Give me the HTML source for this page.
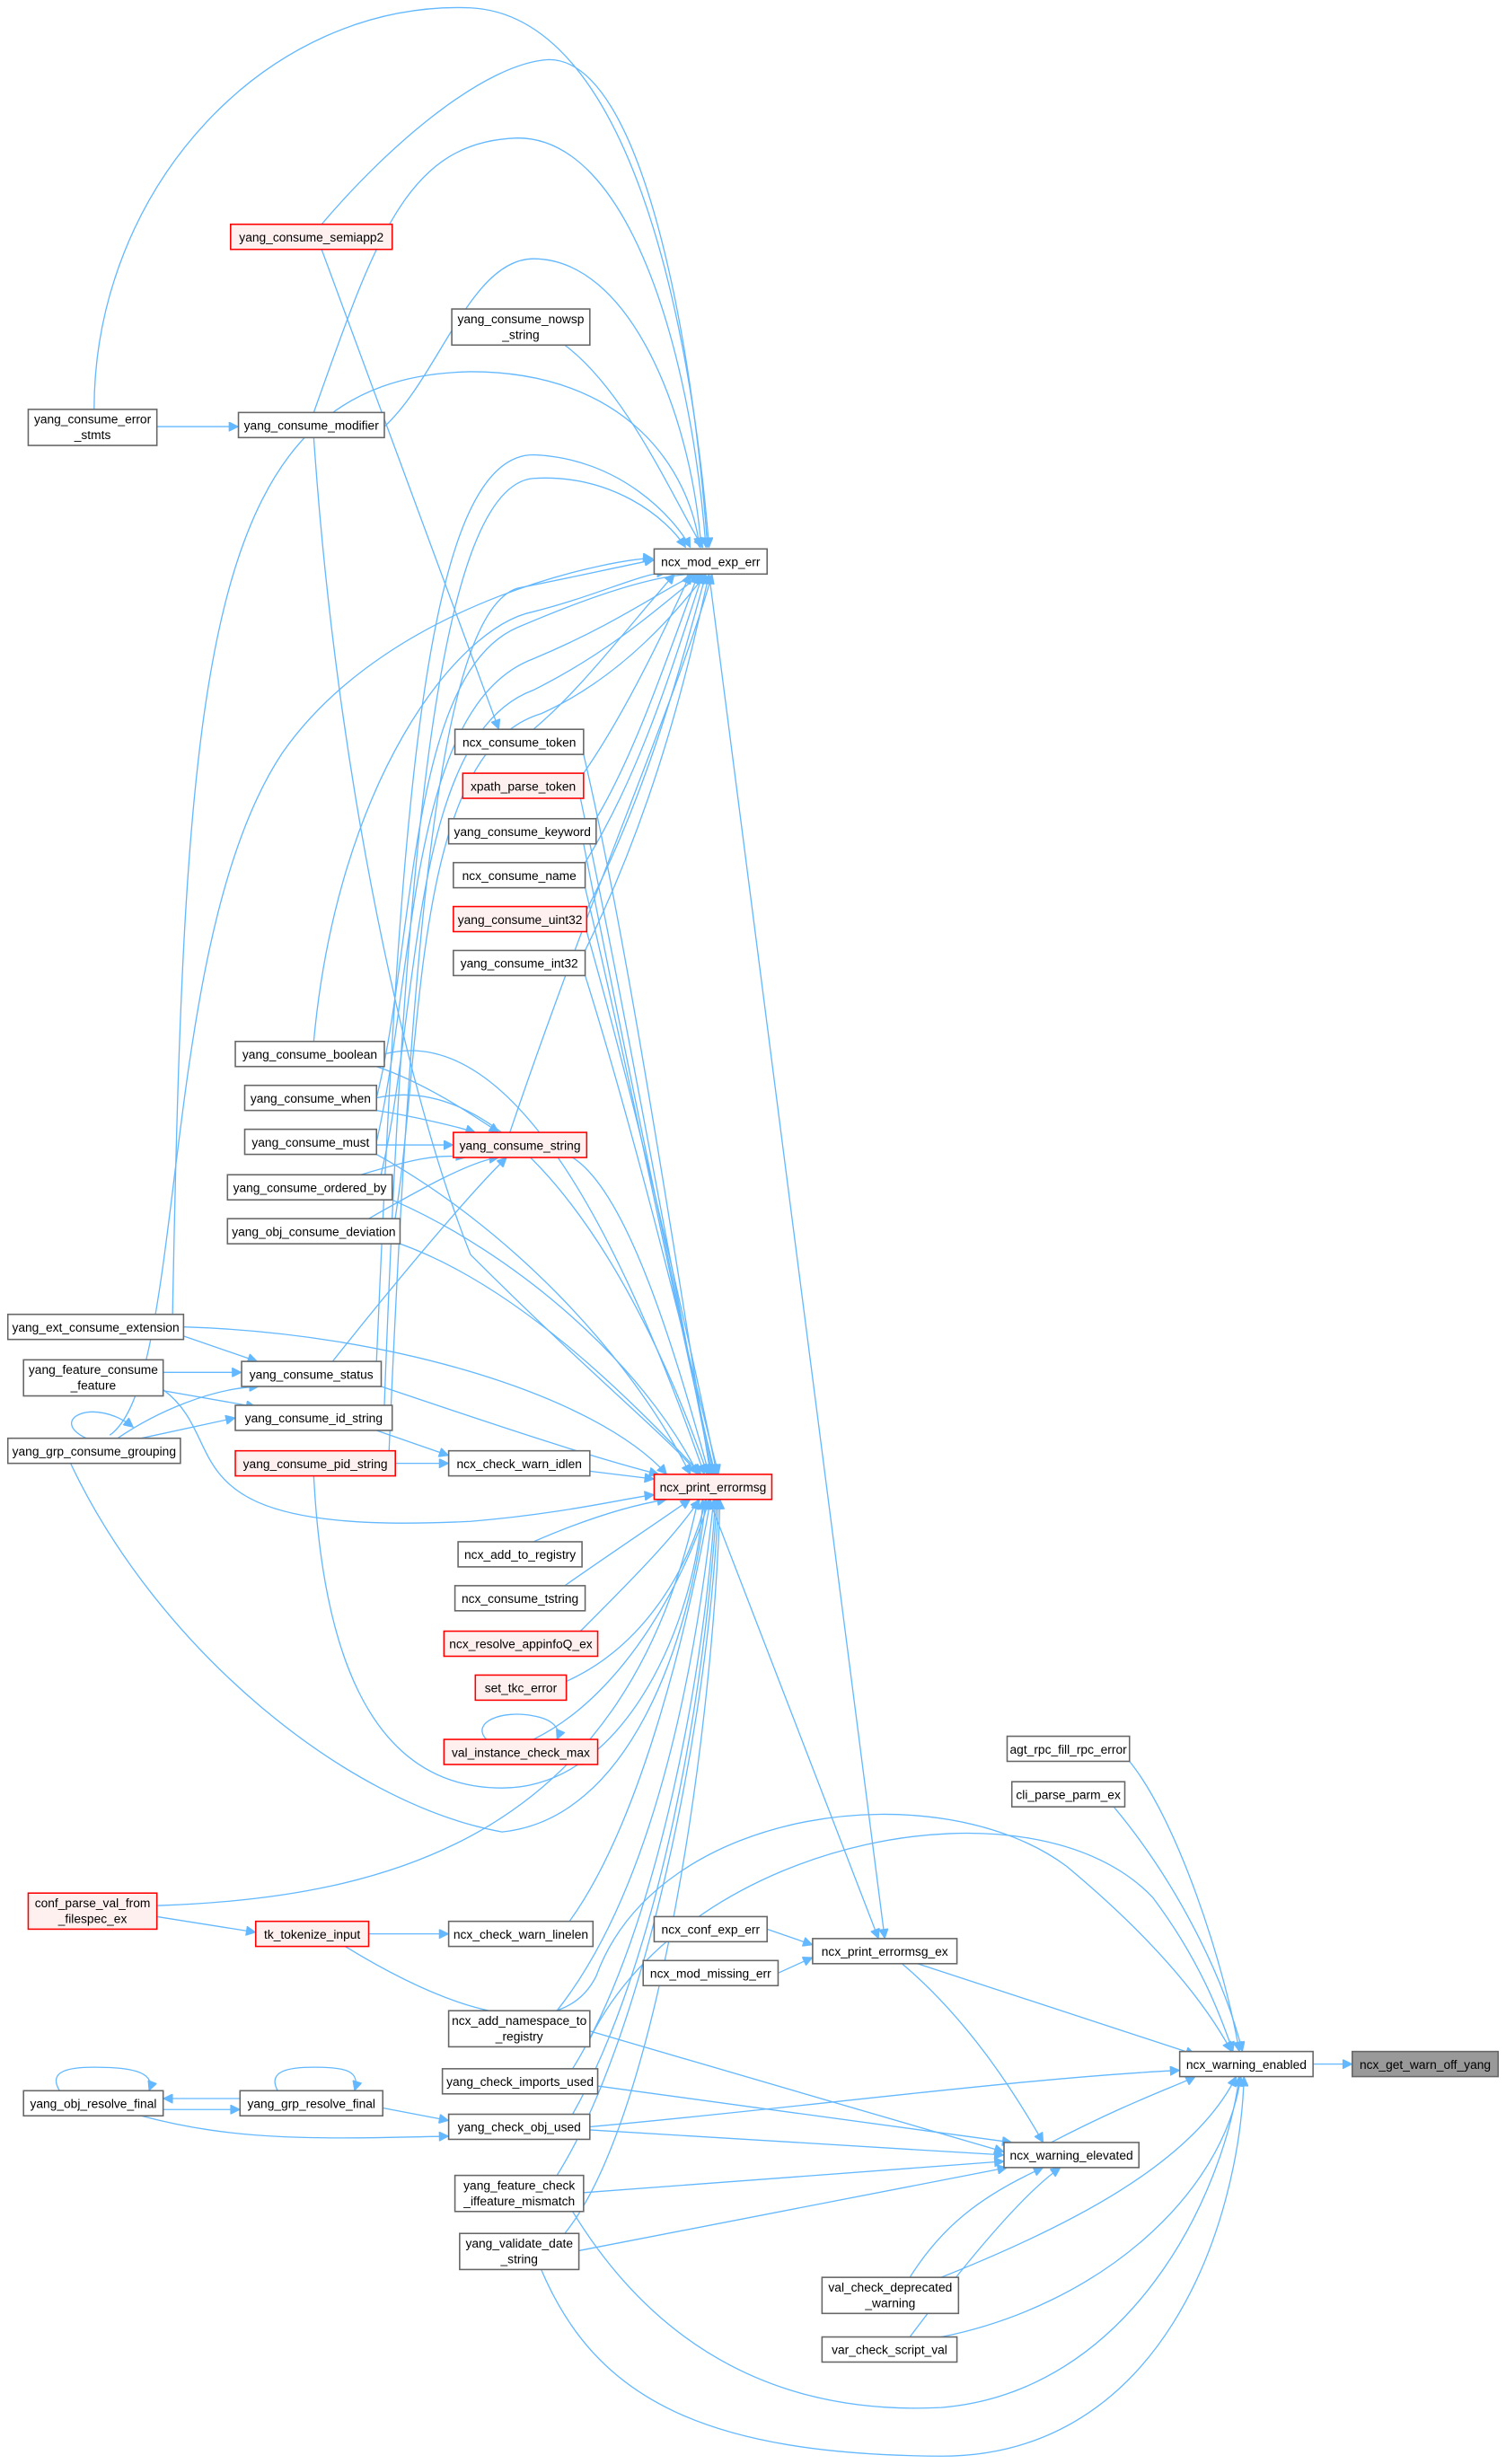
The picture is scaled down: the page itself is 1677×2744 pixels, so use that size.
<!DOCTYPE html>
<html><head><meta charset="utf-8"><style>
html,body{margin:0;padding:0;background:#fff;}
svg{display:block;}
text{font-family:"Liberation Sans",Arial,sans-serif;font-size:7.9px;fill:#000;text-anchor:middle;}
.n{fill:#fff;stroke:#666;stroke-width:0.9;}
.r{fill:#fff0f0;stroke:#f00;stroke-width:0.9;}
.g{fill:#999;stroke:#666;stroke-width:0.9;}
path{fill:none;stroke:#63b8ff;stroke-width:0.75;}
</style></head><body>
<svg width="1677" height="2744" viewBox="0 0 960 1571" preserveAspectRatio="none" xmlns="http://www.w3.org/2000/svg">
<defs><marker id="a" viewBox="0 0 10 10" refX="10" refY="5" markerWidth="7" markerHeight="6" markerUnits="userSpaceOnUse" orient="auto"><path d="M0,0 L10,5 L0,10 z" style="fill:#63b8ff;stroke:#63b8ff"/></marker></defs>
<g marker-end="url(#a)">
<path d="M60,261 C60,120 170,0 300,5 C400,10 440,200 452,349"/>
<path d="M205,143 C250,90 310,40 350,38 C410,38 442,220 451,349"/>
<path d="M200,263 C240,150 260,90 330,88 C400,88 440,220 450,349"/>
<path d="M360,220 C400,250 430,320 448,349"/>
<path d="M245,272 C280,240 300,165 340,165 C400,165 440,260 447,349"/>
<path d="M110,838 C118,420 130,240 300,237 C400,237 440,300 446,349"/>
<path d="M240,868 C255,520 270,290 340,290 C395,292 430,330 440,349"/>
<path d="M245,896 C258,540 280,310 340,305 C390,302 425,330 437,349"/>
<path d="M248,925 C262,600 280,390 330,375 C380,365 410,358 417,357"/>
<path d="M200,664 C215,500 290,400 340,390 C380,380 410,365 425,365"/>
<path d="M340,465 C370,440 400,400 430,366"/>
<path d="M372,493 C395,460 420,410 440,366"/>
<path d="M380,522 C405,480 425,420 445,366"/>
<path d="M373,550 C410,490 430,420 448,366"/>
<path d="M374,580 C415,500 435,420 450,366"/>
<path d="M373,606 C420,510 440,420 452,366"/>
<path d="M325,722 C380,560 430,450 454,366"/>
<path d="M240,700 C265,600 260,430 330,400 C400,370 430,366 444,366"/>
<path d="M240,728 C265,620 260,450 340,420 C400,395 430,370 446,366"/>
<path d="M240,760 C268,660 258,470 340,440 C400,410 432,375 448,366"/>
<path d="M250,788 C270,680 260,480 345,455 C400,430 435,385 450,366"/>
<path d="M200,279 C215,500 260,700 300,800 C380,880 430,920 445,940"/>
<path d="M70,915 C120,880 100,600 180,480 C250,380 400,355 416,356"/>
<path d="M205,159 L318,465"/>
<path d="M100,272 L152,272"/>
<path d="M240,680 C270,690 300,710 318,722"/>
<path d="M240,708 C265,712 290,718 303,722"/>
<path d="M240,730 L289,730"/>
<path d="M230,749 C260,740 280,735 297,738"/>
<path d="M235,777 C265,760 300,740 318,738"/>
<path d="M212,868 C250,820 300,760 323,738"/>
<path d="M100,846 L164,868"/>
<path d="M100,875 L154,875"/>
<path d="M100,886 L163,897"/>
<path d="M75,917 C100,900 135,885 165,884"/>
<path d="M90,917 L150,904"/>
<path d="M55,917 C30,905 60,890 85,910"/>
<path d="M240,912 L286,928"/>
<path d="M252,933 L286,933"/>
<path d="M376,938 L417,943"/>
<path d="M117,846 C250,850 380,890 425,940"/>
<path d="M243,884 C320,910 380,930 420,940"/>
<path d="M240,736 C320,780 400,860 440,940"/>
<path d="M250,765 C330,800 410,870 445,940"/>
<path d="M255,793 C330,820 400,890 447,940"/>
<path d="M245,672 C330,650 400,800 449,940"/>
<path d="M240,700 C330,680 410,820 451,940"/>
<path d="M365,738 C400,760 430,860 452,940"/>
<path d="M372,481 C400,600 430,800 453,940"/>
<path d="M370,509 C400,650 435,850 454,940"/>
<path d="M372,538 C400,680 440,870 455,940"/>
<path d="M373,566 C405,700 440,880 456,940"/>
<path d="M374,594 C410,720 445,880 457,940"/>
<path d="M373,622 C410,740 445,890 458,940"/>
<path d="M104,886 C150,920 100,980 300,970 C360,965 400,955 417,953"/>
<path d="M340,983 C370,970 400,960 425,956"/>
<path d="M360,1011 C390,990 420,970 440,956"/>
<path d="M370,1040 C400,1010 430,980 446,956"/>
<path d="M361,1072 C410,1050 440,1000 450,956"/>
<path d="M340,1109 C400,1080 440,1000 452,956"/>
<path d="M200,941 C205,1040 230,1140 320,1140 C400,1140 445,1030 448,956"/>
<path d="M45,933 C100,1050 220,1150 320,1168 C400,1160 440,1050 450,956"/>
<path d="M100,1215 C250,1210 400,1170 445,956"/>
<path d="M363,1225 C410,1160 440,1030 453,956"/>
<path d="M355,1282 C420,1200 445,1050 455,956"/>
<path d="M365,1319 C420,1230 450,1060 456,956"/>
<path d="M365,1348 C420,1250 450,1080 457,956"/>
<path d="M355,1387 C410,1300 452,1100 458,956"/>
<path d="M360,1424 C420,1350 455,1100 459,956"/>
<path d="M310,1109 C300,1098 320,1090 340,1094 C352,1096 358,1102 355,1109"/>
<path d="M100,1222 L163,1232"/>
<path d="M235,1233 L286,1233"/>
<path d="M220,1241 C300,1290 360,1300 380,1260 C420,1150 600,1130 680,1190 C740,1240 770,1280 785,1308"/>
<path d="M489,1230 L518,1240"/>
<path d="M496,1258 L518,1248"/>
<path d="M452,956 L560,1236"/>
<path d="M452,366 L564,1236"/>
<path d="M585,1252 L762,1310"/>
<path d="M575,1252 C620,1290 650,1340 665,1366"/>
<path d="M837,1316 L862,1316"/>
<path d="M720,1123 C750,1160 780,1250 790,1308"/>
<path d="M710,1152 C750,1200 780,1260 792,1308"/>
<path d="M670,1366 C720,1340 750,1330 762,1324"/>
<path d="M376,1300 C440,1170 660,1130 735,1210 C765,1250 778,1285 786,1308"/>
<path d="M376,1356 C500,1345 650,1325 752,1320"/>
<path d="M365,1410 C420,1500 500,1540 600,1535 C720,1525 780,1400 790,1324"/>
<path d="M345,1447 C380,1530 450,1565 600,1566 C740,1566 790,1420 793,1324"/>
<path d="M600,1452 C680,1420 760,1380 788,1324"/>
<path d="M600,1490 C700,1470 780,1400 791,1324"/>
<path d="M376,1295 L640,1372"/>
<path d="M381,1330 L645,1366"/>
<path d="M376,1358 L640,1374"/>
<path d="M372,1398 L640,1378"/>
<path d="M369,1435 L642,1382"/>
<path d="M580,1452 C600,1420 625,1400 665,1382"/>
<path d="M580,1490 C610,1450 650,1400 676,1382"/>
<path d="M153,1338 L104,1338"/>
<path d="M104,1345 L153,1345"/>
<path d="M244,1344 L286,1352"/>
<path d="M90,1349 C150,1365 200,1364 286,1362"/>
<path d="M38,1333 C30,1320 45,1318 60,1318 C80,1318 100,1320 95,1333"/>
<path d="M177,1333 C170,1320 185,1318 200,1318 C220,1318 230,1320 226,1333"/>
</g>
<rect class="r" x="147" y="143" width="103" height="16"/><text x="198.5" y="154">yang_consume_semiapp2</text>
<rect class="n" x="288" y="197" width="88" height="23"/><text x="332" y="206">yang_consume_nowsp</text><text x="332" y="216">_string</text>
<rect class="n" x="18" y="261" width="82" height="23"/><text x="59" y="270">yang_consume_error</text><text x="59" y="280">_stmts</text>
<rect class="n" x="152" y="263" width="93" height="16"/><text x="198.5" y="274">yang_consume_modifier</text>
<rect class="n" x="417" y="350" width="72" height="16"/><text x="453" y="361">ncx_mod_exp_err</text>
<rect class="n" x="290" y="465" width="82" height="16"/><text x="331" y="476">ncx_consume_token</text>
<rect class="r" x="295" y="493" width="77" height="16"/><text x="333.5" y="504">xpath_parse_token</text>
<rect class="n" x="286" y="522" width="94" height="16"/><text x="333" y="533">yang_consume_keyword</text>
<rect class="n" x="289" y="550" width="84" height="16"/><text x="331" y="561">ncx_consume_name</text>
<rect class="r" x="289" y="578" width="85" height="16"/><text x="331.5" y="589">yang_consume_uint32</text>
<rect class="n" x="289" y="606" width="84" height="16"/><text x="331" y="617">yang_consume_int32</text>
<rect class="n" x="150" y="664" width="95" height="16"/><text x="197.5" y="675">yang_consume_boolean</text>
<rect class="n" x="156" y="692" width="84" height="16"/><text x="198" y="703">yang_consume_when</text>
<rect class="n" x="156" y="720" width="84" height="16"/><text x="198" y="731">yang_consume_must</text>
<rect class="r" x="289" y="722" width="85" height="16"/><text x="331.5" y="733">yang_consume_string</text>
<rect class="n" x="145" y="749" width="105" height="16"/><text x="197.5" y="760">yang_consume_ordered_by</text>
<rect class="n" x="145" y="777" width="110" height="16"/><text x="200" y="788">yang_obj_consume_deviation</text>
<rect class="n" x="5" y="838" width="112" height="16"/><text x="61" y="849">yang_ext_consume_extension</text>
<rect class="n" x="15" y="867" width="89" height="23"/><text x="59.5" y="876">yang_feature_consume</text><text x="59.5" y="886">_feature</text>
<rect class="n" x="154" y="868" width="89" height="16"/><text x="198.5" y="879">yang_consume_status</text>
<rect class="n" x="150" y="896" width="100" height="16"/><text x="200" y="907">yang_consume_id_string</text>
<rect class="n" x="5" y="917" width="110" height="16"/><text x="60" y="928">yang_grp_consume_grouping</text>
<rect class="r" x="150" y="925" width="102" height="16"/><text x="201" y="936">yang_consume_pid_string</text>
<rect class="n" x="286" y="925" width="90" height="16"/><text x="331" y="936">ncx_check_warn_idlen</text>
<rect class="r" x="417" y="940" width="75" height="16"/><text x="454.5" y="951">ncx_print_errormsg</text>
<rect class="n" x="292" y="983" width="79" height="16"/><text x="331.5" y="994">ncx_add_to_registry</text>
<rect class="n" x="290" y="1011" width="83" height="16"/><text x="331.5" y="1022">ncx_consume_tstring</text>
<rect class="r" x="283" y="1040" width="98" height="16"/><text x="332" y="1051">ncx_resolve_appinfoQ_ex</text>
<rect class="r" x="303" y="1068" width="58" height="16"/><text x="332" y="1079">set_tkc_error</text>
<rect class="r" x="283" y="1109" width="98" height="16"/><text x="332" y="1120">val_instance_check_max</text>
<rect class="n" x="642" y="1107" width="78" height="16"/><text x="681" y="1118">agt_rpc_fill_rpc_error</text>
<rect class="n" x="645" y="1136" width="72" height="16"/><text x="681" y="1147">cli_parse_parm_ex</text>
<rect class="r" x="18" y="1207" width="82" height="23"/><text x="59" y="1216">conf_parse_val_from</text><text x="59" y="1226">_filespec_ex</text>
<rect class="r" x="163" y="1225" width="72" height="16"/><text x="199" y="1236">tk_tokenize_input</text>
<rect class="n" x="286" y="1225" width="92" height="16"/><text x="332" y="1236">ncx_check_warn_linelen</text>
<rect class="n" x="417" y="1222" width="72" height="16"/><text x="453" y="1233">ncx_conf_exp_err</text>
<rect class="n" x="518" y="1236" width="92" height="16"/><text x="564" y="1247">ncx_print_errormsg_ex</text>
<rect class="n" x="410" y="1250" width="86" height="16"/><text x="453" y="1261">ncx_mod_missing_err</text>
<rect class="n" x="286" y="1282" width="90" height="23"/><text x="331" y="1291">ncx_add_namespace_to</text><text x="331" y="1301">_registry</text>
<rect class="n" x="752" y="1308" width="85" height="16"/><text x="794.5" y="1319">ncx_warning_enabled</text>
<rect class="g" x="862" y="1308" width="93" height="16"/><text x="908.5" y="1319">ncx_get_warn_off_yang</text>
<rect class="n" x="282" y="1319" width="99" height="16"/><text x="331.5" y="1330">yang_check_imports_used</text>
<rect class="n" x="15" y="1333" width="89" height="16"/><text x="59.5" y="1344">yang_obj_resolve_final</text>
<rect class="n" x="153" y="1333" width="91" height="16"/><text x="198.5" y="1344">yang_grp_resolve_final</text>
<rect class="n" x="286" y="1348" width="90" height="16"/><text x="331" y="1359">yang_check_obj_used</text>
<rect class="n" x="640" y="1366" width="86" height="16"/><text x="683" y="1377">ncx_warning_elevated</text>
<rect class="n" x="290" y="1387" width="82" height="23"/><text x="331" y="1396">yang_feature_check</text><text x="331" y="1406">_iffeature_mismatch</text>
<rect class="n" x="293" y="1424" width="76" height="23"/><text x="331" y="1433">yang_validate_date</text><text x="331" y="1443">_string</text>
<rect class="n" x="524" y="1452" width="87" height="23"/><text x="567.5" y="1461">val_check_deprecated</text><text x="567.5" y="1471">_warning</text>
<rect class="n" x="524" y="1490" width="86" height="16"/><text x="567" y="1501">var_check_script_val</text>
</svg>
</body></html>
